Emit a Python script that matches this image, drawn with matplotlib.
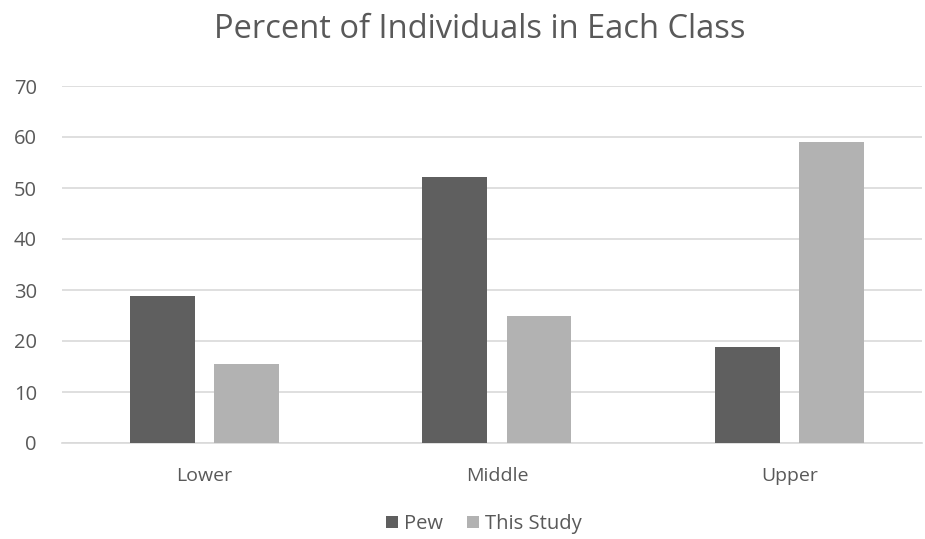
import matplotlib
matplotlib.use("Agg")
import matplotlib.pyplot as plt
import numpy as np

categories = ["Lower", "Middle", "Upper"]
pew = [28.8, 52.1, 18.8]
this_study = [15.5, 25.0, 59.0]
yticks = [0, 10, 20, 30, 40, 50, 60, 70]

plt.rcParams['font.family'] = ['Open Sans', 'DejaVu Sans']
txt = '#595959'

fig = plt.figure(figsize=(9.25, 5.39), dpi=100)
ax = fig.add_axes([62/925, 1-443/539, (922-62)/925, (443-86)/539])

x = np.arange(len(categories))
w = 0.222
off = 0.1436
ax.bar(x - off, pew, w, color='#5f5f5f', label='Pew', zorder=3)
ax.bar(x + off, this_study, w, color='#b2b2b2', label='This Study', zorder=3)

ax.set_xlim(-0.487, 2.453)
ax.set_ylim(0, 70)
ax.set_yticks(yticks)
ax.yaxis.grid(True, color='#d9d9d9', linewidth=1.2, zorder=0)
ax.set_axisbelow(True)
for s in ['top', 'right', 'left']:
    ax.spines[s].set_visible(False)
ax.spines['bottom'].set_color('#d9d9d9')
ax.spines['bottom'].set_linewidth(1.2)
ax.tick_params(axis='both', length=0, colors=txt)
ax.tick_params(axis='y', pad=18, labelsize=14.5)
ax.tick_params(axis='x', pad=17, labelsize=14)
ax.set_xticks(x)
ax.set_xticklabels(categories)

fig.text(480/925, 1-30/539, "Percent of Individuals in Each Class", ha='center', va='center',
         fontsize=23.5, color=txt)

leg = fig.legend(loc='center', bbox_to_anchor=(484/925, 1-524/539), ncol=2, frameon=False,
                 fontsize=14.5, handlelength=0.6, handleheight=0.6, handletextpad=0.3,
                 columnspacing=1.2, labelcolor=txt)

fig.savefig('out.png', dpi=100)
